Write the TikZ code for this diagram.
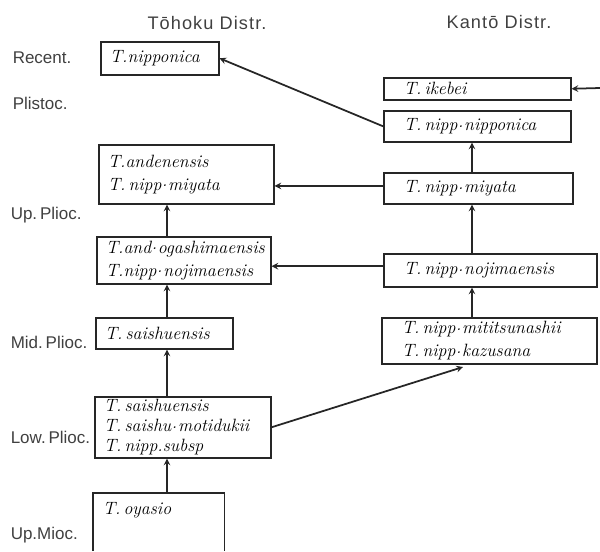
\documentclass[tikz,border=0pt]{standalone}
\usepackage{fontspec}
\usepackage{xcolor}
\usepackage{tikz}
\newfontfamily\labfont{Liberation Sans}
\newfontfamily\headfont[LetterSpace=6]{Liberation Sans}
\newcommand{\pd}{\kern0.6pt\raisebox{0.45ex}{.}\kern0.6pt}

\begin{document}
\begin{tikzpicture}[x=0.03cm, y=-0.03cm, line width=1.5pt, >=stealth,
		taxon/.style={draw=black!85, line width=1.3pt, anchor=north west, align=left, inner ysep=2pt,
			font=\fontsize{15.2}{19.5}\selectfont\itshape},
		tohoku/.style={taxon, inner xsep=0.27cm},
		kanto/.style={taxon, inner xsep=0.6cm},
		distr/.style={text=black!75, font=\headfont\fontsize{15.5}{18}\selectfont},
		age/.style={anchor=west, text=black!75, font=\labfont\fontsize{14.5}{17}\selectfont},
		link/.style={->, draw=black!85}]
			\useasboundingbox (0,0) rectangle (600,551);
			\node[distr] at (207,23) (thd){T\=ohoku Distr.};
			\node[distr] at (499,22) (knd){Kant\=o Distr.};
			\node[age] at (8,58) (rec){Recent.};
			\node[age] at (8,103) (pls){Plistoc.};
			\node[age] at (6,215) (upl){Up.\,Plioc.};
			\node[age] at (6,342) (mpl){Mid.\,Plioc.};
			\node[age] at (6,437) (lpl){Low.\,Plioc.};
			\node[age] at (6,535) (umi){Up.Mioc.};
			% Tohoku column
			\node[tohoku, text width=3.0cm, minimum height=0.99cm] at (100,41) (nip){T.nipponica};
			\node[tohoku, text width=4.71cm, minimum height=1.77cm] at (98,144) (and){T.andenensis\\T.\,nipp\pd miyata};
			\node[tohoku, text width=4.68cm, minimum height=1.41cm] at (96,236) (oga){T.and\pd ogashimaensis\\T.nipp\pd nojimaensis};
			\node[tohoku, text width=3.57cm, minimum height=0.93cm] at (95,317) (sai){T.\,saishuensis};
			\node[tohoku, text width=4.74cm, minimum height=1.83cm] at (94,396) (low){T.\,saishuensis\\[-2.5pt]T.\,saishu\pd motidukii\\[-2.5pt]T.\,nipp.subsp};
			\node[tohoku, draw=none, text width=3.36cm, minimum height=0.99cm] at (93,493) (oya){T.\,oyasio};
			\draw[black!85, line width=1.3pt] (oya.north west |- 0,551) -- (oya.north west) -- (oya.north east) -- (oya.north east |- 0,551);
			% Kanto column
			\node[kanto, text width=4.41cm, minimum height=0.66cm] at (383,77) (ike){T.\,ikebei};
			\node[kanto, text width=4.41cm, minimum height=0.93cm] at (383,110) (nn){T.\,nipp\pd nipponica};
			\node[kanto, text width=4.47cm, minimum height=0.93cm] at (383,172) (nm){T.\,nipp\pd miyata};
			\node[kanto, text width=5.19cm, minimum height=0.99cm] at (383,253) (nj){T.\,nipp\pd nojimaensis};
			\node[kanto, text width=5.25cm, minimum height=1.38cm] at (381,317) (mt){T.\,nipp\pd mititsunashii\\T.\,nipp\pd kazusana};
			\coordinate (tx) at (167,0);
			\coordinate (kx) at (472,0);
			\coordinate (ein) at (600,88);
			\coordinate (kz) at (463,367);
			% vertical links
			\draw[link] (oya.north -| tx) -- (low.south -| tx);
			\draw[link] (low.north -| tx) -- (sai.south -| tx);
			\draw[link] (sai.north -| tx) -- (oga.south -| tx);
			\draw[link] (oga.north -| tx) -- (and.south -| tx);
			\draw[link] (mt.north -| kx) -- (nj.south -| kx);
			\draw[link] (nj.north -| kx) -- (nm.south -| kx);
			\draw[link] (nm.north -| kx) -- (nn.south -| kx);
			% cross links
			\draw[link] (nn.west) -- (nip.east);
			\draw[link] ([yshift=2pt]nm.west) -- ([yshift=2pt]and.east |- nm.west);
			\draw[link] ([yshift=3.5pt]nj.west) -- ([yshift=3.5pt]oga.east |- nj.west);
			\draw[link] (low.east) -- (kz);
			\draw[link] (ein) -- (ike.east);
		\end{tikzpicture}
\end{document}
